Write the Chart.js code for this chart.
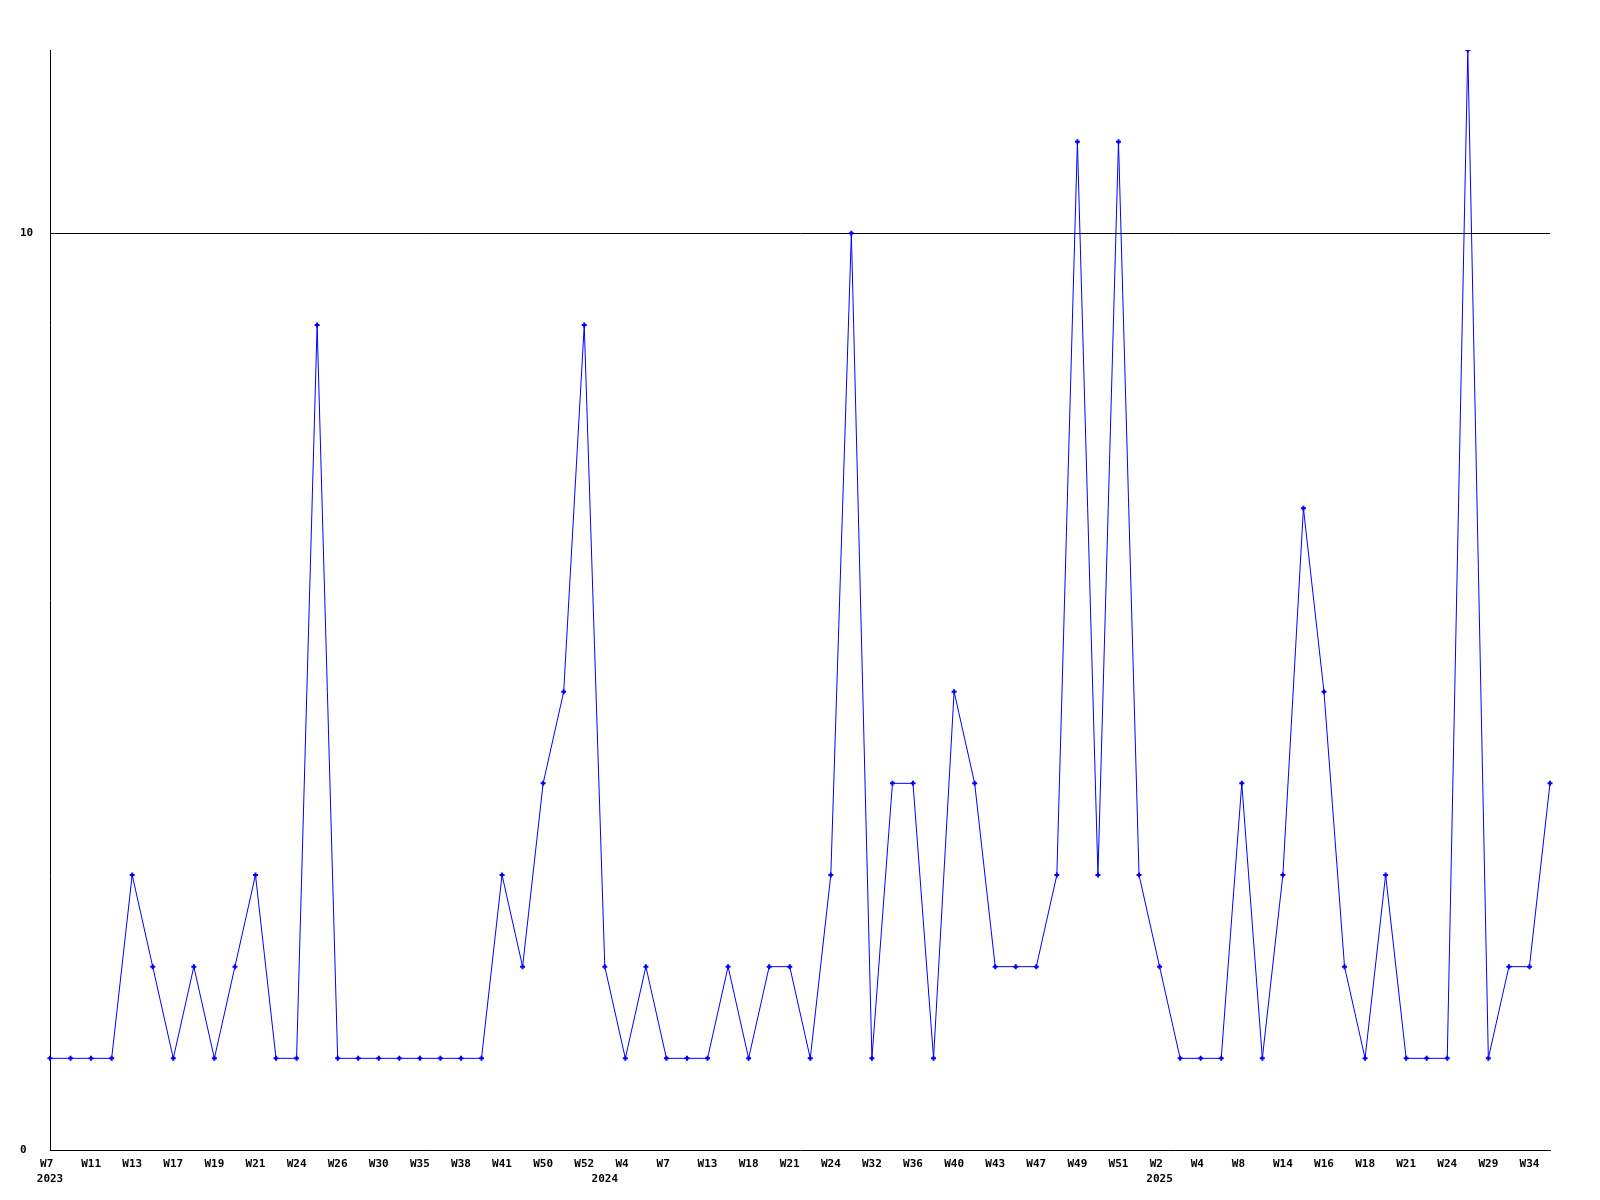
<!DOCTYPE html>
<html>
<head>
<meta charset="utf-8">
<script src="https://cdn.jsdelivr.net/npm/chart.js@4/dist/chart.umd.min.js"></script>
<style>
    body { margin: 0; background: #fff; }
</style>
</head>
<body>
<canvas id="weeklyChart" width="1600" height="1200"></canvas>
<script>
const weeks = [
    "W7", "W9", "W11", "W12", "W13", "W15", "W17", "W18", "W19", "W20",
    "W21", "W23", "W24", "W25", "W26", "W28", "W30", "W33", "W35", "W37",
    "W38", "W40", "W41", "W45", "W50", "W51", "W52", "W1", "W4", "W5",
    "W7", "W10", "W13", "W15", "W18", "W19", "W21", "W23", "W24", "W28",
    "W32", "W34", "W36", "W38", "W40", "W41", "W43", "W45", "W47", "W48",
    "W49", "W50", "W51", "W52", "W2", "W3", "W4", "W6", "W8", "W11",
    "W14", "W15", "W16", "W17", "W18", "W20", "W21", "W23", "W24", "W26",
    "W29", "W31", "W34", "W35",
];
const years = ["2023", "2024", "2025"];
const yearStart = [0, 27, 54];
const counts = [
    1, 1, 1, 1, 3, 2, 1, 2, 1, 2,
    3, 1, 1, 9, 1, 1, 1, 1, 1, 1,
    1, 1, 3, 2, 4, 5, 9, 2, 1, 2,
    1, 1, 1, 2, 1, 2, 2, 1, 3, 10,
    1, 4, 4, 1, 5, 4, 2, 2, 2, 3,
    11, 3, 11, 3, 2, 1, 1, 1, 4, 1,
    3, 7, 5, 2, 1, 3, 1, 1, 1, 12,
    1, 2, 2, 4,
];
const yTicks = [0, 10];

// only every other week gets its name printed, years go under the first week of the year
function tickText(index) {
    const week = index % 2 === 0 ? weeks[index].padEnd(3, " ") : "";
    const y = yearStart.indexOf(index);
    if (y >= 0) {
        return [week, years[y]];
    }
    return week;
}

function renderChart() {
    const ctx = document.getElementById("weeklyChart").getContext("2d");
    const tickFont = { family: "'DejaVu Sans Mono', monospace", size: 11, weight: "bold", lineHeight: "15px" };

    new Chart(ctx, {
        type: "line",
        data: {
            labels: weeks,
            datasets: [
                {
                    data: counts,
                    borderColor: "#0000ff",
                    backgroundColor: "#0000ff",
                    borderWidth: 1,
                    tension: 0,
                    pointStyle: "cross",
                    pointRadius: 2.5,
                    pointBorderWidth: 2,
                    pointHoverRadius: 2.5,
                },
            ],
        },
        options: {
            responsive: false,
            animation: false,
            layout: {
                padding: { left: 20, top: 50, right: 50, bottom: 0 },
            },
            plugins: {
                legend: { display: false },
                tooltip: { enabled: false },
            },
            scales: {
                x: {
                    offset: false,
                    border: { color: "#000", width: 1 },
                    grid: { display: false, drawTicks: false },
                    ticks: {
                        autoSkip: false,
                        maxRotation: 0,
                        minRotation: 0,
                        padding: 7,
                        color: "#000",
                        font: tickFont,
                        callback: function (value, index) {
                            return tickText(index);
                        },
                    },
                    afterFit: function (scale) {
                        scale.height = 50;
                    },
                },
                y: {
                    min: 0,
                    max: 12,
                    border: { color: "#000", width: 1 },
                    grid: {
                        drawTicks: false,
                        color: function (c) {
                            return c.tick && c.tick.value === 10 ? "#000" : "rgba(0,0,0,0)";
                        },
                    },
                    ticks: {
                        crossAlign: "far",
                        padding: 0,
                        color: "#000",
                        font: tickFont,
                    },
                    afterBuildTicks: function (scale) {
                        scale.ticks = yTicks.map(function (v) {
                            return { value: v };
                        });
                    },
                    afterFit: function (scale) {
                        scale.width = 30;
                    },
                },
            },
        },
    });
}

renderChart();
</script>
</body>
</html>
